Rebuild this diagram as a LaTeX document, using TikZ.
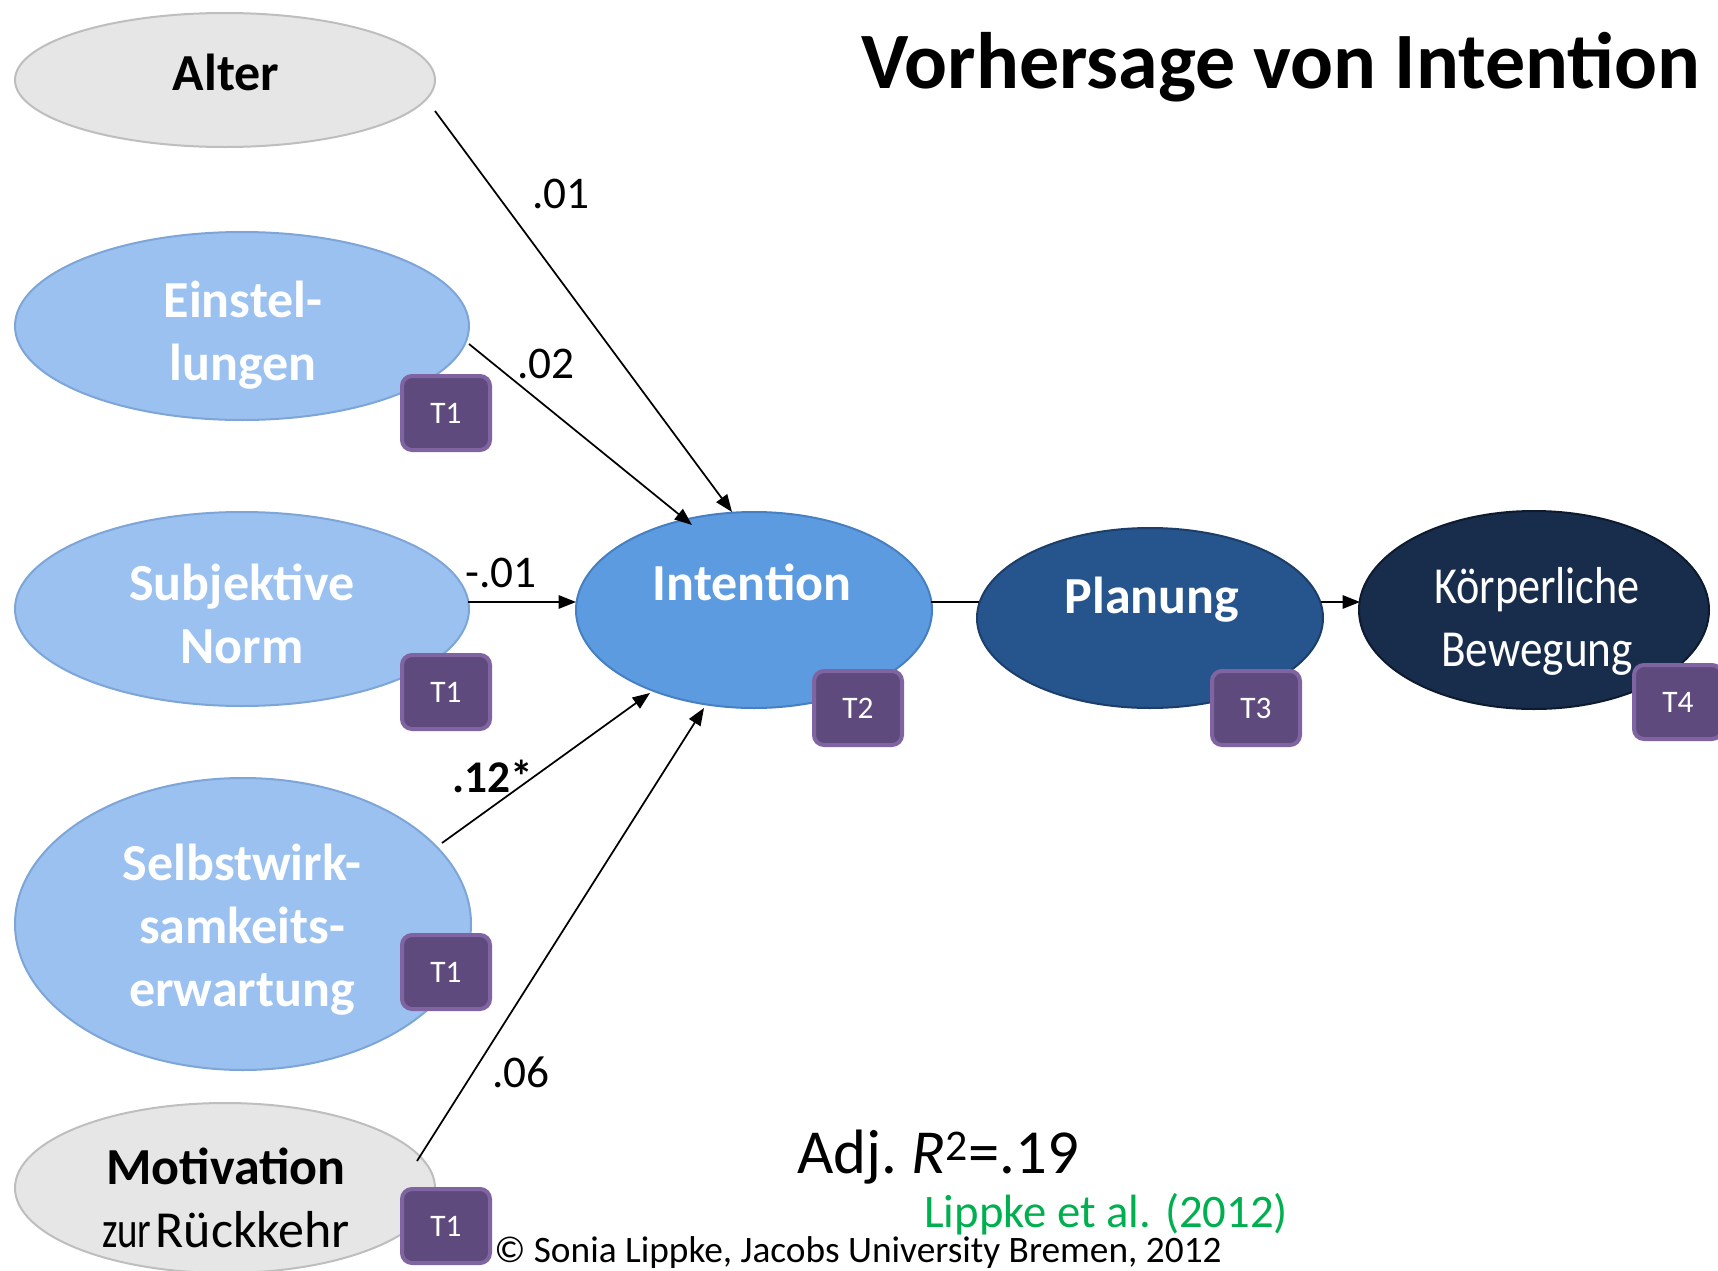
\documentclass[tikz,border=0pt]{standalone}
\usepackage{fontspec}
\setmainfont{Carlito}
\usepackage{graphicx}
\usetikzlibrary{shapes.geometric,arrows.meta}
\definecolor{greyF}{RGB}{230,230,230}
\definecolor{greyD}{RGB}{190,190,190}
\definecolor{lblueF}{RGB}{155,193,240}
\definecolor{lblueD}{RGB}{125,165,215}
\definecolor{intF}{RGB}{93,155,225}
\definecolor{intD}{RGB}{70,128,195}
\definecolor{planF}{RGB}{38,84,140}
\definecolor{planD}{RGB}{28,62,105}
\definecolor{koerpF}{RGB}{24,44,76}
\definecolor{koerpD}{RGB}{14,26,46}
\definecolor{tF}{RGB}{94,74,124}
\definecolor{tD}{RGB}{128,100,162}
\definecolor{greenT}{RGB}{0,176,80}
\newcommand\pxu{0.75pt}
\newcommand\Ln{\rule[-0.25em]{0pt}{1em}}
\begin{document}
\begin{tikzpicture}[x=0.75pt,y=-0.75pt,
  ell/.style={ellipse, inner sep=0, line width=1.5pt},
  greyE/.style={ell, fill=greyF, draw=greyD},
  lblueE/.style={ell, fill=lblueF, draw=lblueD},
  tbox/.style={rectangle, rounded corners=7.5pt, fill=tF, draw=tD, line width=3pt,
    minimum width=88*\pxu, minimum height=74*\pxu, inner sep=0, text=white,
    font=\fontsize{23.5}{28}\selectfont},
  etxt/.style={align=center, inner sep=0, font=\fontsize{39}{47.25}\selectfont\bfseries, text=white},
  conn/.style={line width=1.3pt, -{Triangle[length=13pt,width=10pt]}},
  plainline/.style={line width=1.3pt},
  elbl/.style={inner sep=0, anchor=base west, font=\fontsize{34}{40}\selectfont},
  ftxt/.style={inner sep=0, anchor=base west}
]
\useasboundingbox (0,0) rectangle (1718,1271);
\fill[white] (0,0) rectangle (1718,1271);

% ellipses
\node[greyE, minimum width=420*\pxu, minimum height=134*\pxu] (alter) at (225,80) {};
\node[lblueE, minimum width=454*\pxu, minimum height=188*\pxu] (einst) at (242,326) {};
\node[lblueE, minimum width=454*\pxu, minimum height=194*\pxu] (subj) at (242,609) {};
\node[lblueE, minimum width=456*\pxu, minimum height=292*\pxu] (selbst) at (243,924) {};
\node[greyE, minimum width=420*\pxu, minimum height=170*\pxu] (motiv) at (225,1188) {};
\node[ell, fill=intF, draw=intD, minimum width=356*\pxu, minimum height=196*\pxu] (int) at (754,610) {};
\node[ell, fill=planF, draw=planD, minimum width=346*\pxu, minimum height=180*\pxu] (plan) at (1150,618) {};
\node[ell, fill=koerpF, draw=koerpD, minimum width=350*\pxu, minimum height=198*\pxu] (koerp) at (1534,610) {};

% connectors
\draw[conn] ([shift={(210,31)}]alter.center) -- ([shift={(-22,-98)}]int.center);
\draw[conn] ([shift={(227,18)}]einst.center) -- ([shift={(-62,-85)}]int.center);
\draw[conn] ([shift={(226,-7)}]subj.center) -- ([shift={(-178,-8)}]int.center);
\draw[conn] ([shift={(199,-81)}]selbst.center) -- ([shift={(-104,83)}]int.center);
\draw[conn] ([shift={(192,-27)}]motiv.center) -- ([shift={(-50,98)}]int.center);
\draw[plainline] ([shift={(177,-8)}]int.center) -- ([shift={(-171,-16)}]plan.center);
\draw[conn] ([shift={(171,-16)}]plan.center) -- ([shift={(-174,-8)}]koerp.center);

% time boxes
\node[tbox] (t1a) at (446,413) {T1};
\node[tbox] (t1b) at (446,692) {T1};
\node[tbox] (t1c) at (446,972) {T1};
\node[tbox] (t1d) at (446,1226) {T1};
\node[tbox] (t2) at (858,708) {T2};
\node[tbox] (t3) at (1256,708) {T3};
\node[tbox] (t4) at (1678,702) {T4};

% ellipse texts
\node[etxt, text=black] (alterT) at ([shift={(1,-3)}]alter.center) {\Ln Alter};
\node[etxt] (einstT) at ([shift={(1,10)}]einst.center) {\Ln Einstel-\\\Ln lungen};
\node[etxt] (subjT) at ([shift={(0,10)}]subj.center) {\Ln Subjektive\\\Ln Norm};
\node[etxt] (selbstT) at ([shift={(-1,6)}]selbst.center) {\Ln Selbstwirk-\\\Ln samkeits-\\\Ln erwartung};
\node[etxt, text=black] (motivT) at ([shift={(1,15)}]motiv.center) {\Ln Motivation\\\Ln{\mdseries\scalebox{0.75}[1]{zur}\hspace{0.08em}Rückkehr}};
\node[etxt] (intT) at ([shift={(-2,-23)}]int.center) {\Ln Intention};
\node[etxt] (planT) at ([shift={(2,-18)}]plan.center) {\Ln Planung};
\node[etxt, font=\fontsize{39}{47.25}\selectfont] (koerpT) at ([shift={(3,12)}]koerp.center) {\Ln\scalebox{0.85}[1]{Körperliche}\\\Ln\scalebox{0.87}[1]{Bewegung}};

% edge labels
\node[elbl] (l1) at (532,208) {.01};
\node[elbl] (l2) at (517,378) {.02};
\node[elbl] (l3) at (465,587) {-.01};
\node[elbl, font=\fontsize{34}{40}\selectfont\bfseries] (l4) at (452,792) {.12*};
\node[elbl] (l5) at (492,1087) {.06};

% free texts
\node[ftxt, font=\fontsize{60}{72}\selectfont\bfseries] (title) at (861,88) {Vorhersage von Intention};
\node[ftxt, font=\fontsize{47}{56}\selectfont] (adj) at (797,1173) {Adj.\ \textit{R}\textsuperscript{2}=.19};
\node[ftxt, font=\fontsize{35}{42}\selectfont, text=greenT] (cite) at (924,1227) {Lippke et al. (2012)};
\node[ftxt, font=\fontsize{28}{34}\selectfont] (copy) at (494,1262) {© Sonia Lippke, Jacobs University Bremen, 2012};
\end{tikzpicture}
\end{document}
